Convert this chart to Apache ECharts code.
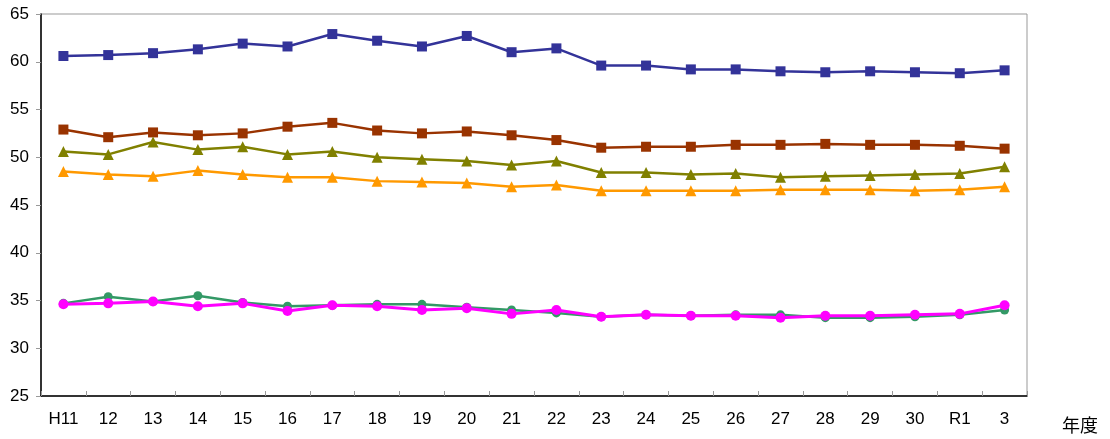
<!DOCTYPE html>
<html>
<head>
<meta charset="utf-8">
<script src="https://cdn.jsdelivr.net/npm/echarts@6/dist/echarts.min.js"></script>
<style>
  html, body { margin: 0; padding: 0; background: #fff; }
  #chart { width: 1110px; height: 439px; }
</style>
</head>
<body>
<div id="chart"></div>
<script>
// 年度 (H11 … R1, 3)
const years = ['H11', '12', '13', '14', '15', '16', '17', '18', '19', '20', '21',
  '22', '23', '24', '25', '26', '27', '28', '29', '30', 'R1', '3'];

// 値は図から読み取った概算
const navySquare = [60.6, 60.7, 60.9, 61.3, 61.9, 61.6, 62.9, 62.2, 61.6, 62.7, 61.0,
  61.4, 59.6, 59.6, 59.2, 59.2, 59.0, 58.9, 59.0, 58.9, 58.8, 59.1];
const brownSquare = [52.9, 52.1, 52.6, 52.3, 52.5, 53.2, 53.6, 52.8, 52.5, 52.7, 52.3,
  51.8, 51.0, 51.1, 51.1, 51.3, 51.3, 51.4, 51.3, 51.3, 51.2, 50.9];
const oliveTriangle = [50.6, 50.3, 51.6, 50.8, 51.1, 50.3, 50.6, 50.0, 49.8, 49.6, 49.2,
  49.6, 48.4, 48.4, 48.2, 48.3, 47.9, 48.0, 48.1, 48.2, 48.3, 49.0];
const orangeTriangle = [48.5, 48.2, 48.0, 48.6, 48.2, 47.9, 47.9, 47.5, 47.4, 47.3, 46.9,
  47.1, 46.5, 46.5, 46.5, 46.5, 46.6, 46.6, 46.6, 46.5, 46.6, 46.9];
const greenCircle = [34.7, 35.4, 34.9, 35.5, 34.8, 34.4, 34.5, 34.6, 34.6, 34.3, 34.0,
  33.7, 33.3, 33.5, 33.4, 33.5, 33.5, 33.2, 33.2, 33.3, 33.5, 34.0];
const magentaCircle = [34.6, 34.7, 34.9, 34.4, 34.7, 33.9, 34.5, 34.4, 34.0, 34.2, 33.6,
  34.0, 33.3, 33.5, 33.4, 33.4, 33.2, 33.4, 33.4, 33.5, 33.6, 34.5];

const FONT = '"Liberation Sans", Arial, sans-serif';

function line(data, color, symbol, size, width) {
  return {
    type: 'line',
    data,
    symbol,
    symbolSize: size,
    showSymbol: true,
    lineStyle: { color, width: width || 2.5 },
    itemStyle: { color, borderWidth: 0 },
    emphasis: { disabled: true },
    animation: false,
  };
}

const chart = echarts.init(document.getElementById('chart'), null, { renderer: 'canvas' });
chart.setOption({
  backgroundColor: '#fff',
  animation: false,
  grid: {
    left: 41, right: 83, top: 14, bottom: 43,
    show: true, borderColor: '#999', borderWidth: 1, backgroundColor: 'transparent',
  },
  xAxis: {
    type: 'category',
    data: years,
    boundaryGap: true,
    axisLine: { lineStyle: { color: '#000', width: 1.5 } },
    axisTick: { show: true, inside: true, length: 5, lineStyle: { color: '#999' } },
    axisLabel: { color: '#000', fontSize: 17, fontFamily: FONT, margin: 15 },
    splitLine: { show: false },
    name: '年度',
    nameLocation: 'end',
    nameGap: 35,
    nameTextStyle: {
      color: '#000', fontSize: 18, fontFamily: '"Noto Sans CJK JP", sans-serif',
      verticalAlign: 'top', padding: [20, 0, 0, 0],
    },
  },
  yAxis: {
    type: 'value',
    min: 25, max: 65, interval: 5,
    axisLine: { show: true, lineStyle: { color: '#000', width: 1.5 } },
    axisTick: { show: true, inside: false, length: 5, lineStyle: { color: '#999' } },
    axisLabel: { color: '#000', fontSize: 17, fontFamily: FONT, margin: 12 },
    splitLine: { show: false },
  },
  series: [
    line(navySquare, '#333399', 'rect', 10),
    line(brownSquare, '#993300', 'rect', 10),
    line(oliveTriangle, '#808000', 'triangle', 11),
    line(orangeTriangle, '#FF9900', 'triangle', 11),
    line(greenCircle, '#339966', 'circle', 9),
    line(magentaCircle, '#FF00FF', 'circle', 10, 3),
  ],
});
</script>
</body>
</html>
